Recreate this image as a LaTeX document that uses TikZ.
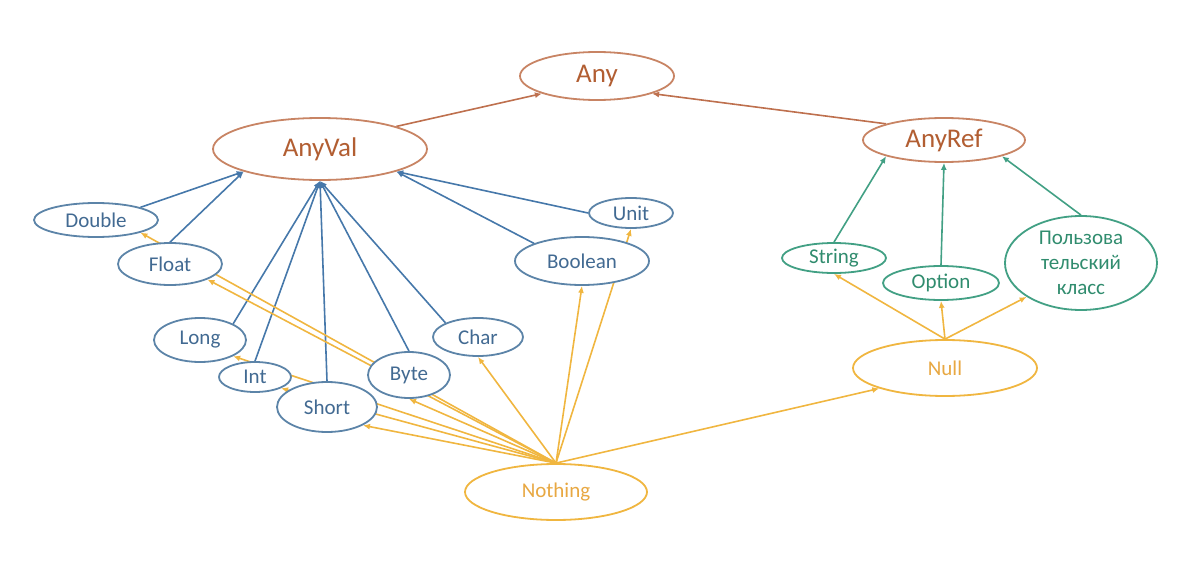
\documentclass[tikz,border=0pt]{standalone}
\usepackage{fontspec}
\setmainfont{Carlito}
\usetikzlibrary{shapes.geometric,arrows.meta,backgrounds}

\definecolor{brownline}{RGB}{200,132,100}
\definecolor{browntext}{RGB}{178,94,50}
\definecolor{brownedge}{RGB}{190,112,78}
\definecolor{blueline}{RGB}{92,132,168}
\definecolor{bluetext}{RGB}{66,106,146}
\definecolor{blueedge}{RGB}{70,120,170}
\definecolor{orangeline}{RGB}{240,182,64}
\definecolor{orangetext}{RGB}{232,168,66}
\definecolor{tealline}{RGB}{66,160,132}
\definecolor{tealtext}{RGB}{48,140,110}

\begin{document}
\begin{tikzpicture}[x=0.5pt, y=-0.5pt,
    type/.style={ellipse, draw, fill=white, line width=0.9pt, inner sep=0pt,
        font=\fontsize{10.5}{12.5}\selectfont, align=center},
    toptype/.style={type, draw=brownline, text=browntext, font=\fontsize{13.5}{15}\selectfont},
    valtype/.style={type, draw=blueline, text=bluetext},
    reftype/.style={type, draw=tealline, text=tealtext},
    bottype/.style={type, draw=orangeline, text=orangetext, font=\fontsize{10.5}{13}\selectfont},
    tip/.style={-{Latex[length=3.5pt,width=3pt]}, line width=0.8pt},
    brownarrow/.style={tip, brownedge},
    bluearrow/.style={tip, blueedge},
    tealarrow/.style={tip, tealline},
    orangearrow/.style={tip, orangeline}]
    \useasboundingbox (0, 0) rectangle (1191, 578);

    % top of the hierarchy
    \node[toptype, minimum width=77pt, minimum height=24pt] (Any) at (597, 76) {Any};
    \node[toptype, minimum width=107pt, minimum height=31pt] (AnyVal) at (320, 149) {AnyVal};
    \node[toptype, minimum width=81pt, minimum height=22pt] (AnyRef) at (944, 140) {AnyRef};

    % value types
    \node[valtype, minimum width=62pt, minimum height=17pt] (Double) at (96, 220) {Double};
    \node[valtype, minimum width=52pt, minimum height=21pt] (Float) at (170, 264) {Float};
    \node[valtype, minimum width=46pt, minimum height=22pt] (Long) at (200, 340) {Long};
    \node[valtype, minimum width=36pt, minimum height=15pt] (Int) at (255, 377) {Int};
    \node[valtype, minimum width=50pt, minimum height=25pt] (Short) at (327, 407) {Short};
    \node[valtype, minimum width=41pt, minimum height=23pt] (Byte) at (409, 375) {Byte};
    \node[valtype, minimum width=45pt, minimum height=19pt] (Char) at (478, 337) {Char};
    \node[valtype, minimum width=67pt, minimum height=24pt] (Boolean) at (582, 261) {Boolean};
    \node[valtype, minimum width=42pt, minimum height=15pt] (Unit) at (631, 213) {Unit};

    % reference types
    \node[reftype, minimum width=52pt, minimum height=15pt] (String) at (834, 258) {String};
    \node[reftype, minimum width=58pt, minimum height=17pt] (Option) at (941, 283) {Option};
    \node[reftype, minimum width=76pt, minimum height=47pt, inner ysep=-2pt] (UserClass) at (1081, 263) {Пользова\\тельский\\класс};

    % bottom types
    \node[bottype, minimum width=92pt, minimum height=28pt] (Null) at (945, 368) {Null};
    \node[bottype, minimum width=91pt, minimum height=28pt] (Nothing) at (556, 492) {Nothing};

    \begin{scope}[on background layer]
        \draw[brownarrow] (AnyVal.north east) -- (Any.south west);
        \draw[brownarrow] (AnyRef.north west) -- (Any.south east);

        \draw[bluearrow] (Double.north east) -- (AnyVal.south west);
        \draw[bluearrow] (Float.north) -- (AnyVal.south west);
        \draw[bluearrow] (Long.north east) -- (AnyVal.south);
        \draw[bluearrow] (Int.north) -- (AnyVal.south);
        \draw[bluearrow] (Short.north) -- (AnyVal.south);
        \draw[bluearrow] (Byte.north) -- (AnyVal.south);
        \draw[bluearrow] (Char.north west) -- (AnyVal.south);
        \draw[bluearrow] (Boolean.north west) -- (AnyVal.south east);
        \draw[bluearrow] (Unit.west) -- (AnyVal.south east);

        \draw[tealarrow] (String.north) -- (AnyRef.south west);
        \draw[tealarrow] (Option.north) -- (AnyRef.south);
        \draw[tealarrow] (UserClass.north) -- (AnyRef.south east);

        \draw[orangearrow] (Null.north) -- (String.south);
        \draw[orangearrow] (Null.north) -- (Option.south);
        \draw[orangearrow] (Null.north) -- (UserClass.south west);

        \draw[orangearrow] (Nothing.north) -- (Double.south east);
        \draw[orangearrow] (Nothing.north) -- (Float.south east);
        \draw[orangearrow] (Nothing.north) -- (Long.south east);
        \draw[orangearrow] (Nothing.north) -- (Int.south east);
        \draw[orangearrow] (Nothing.north) -- (Short.south east);
        \draw[orangearrow] (Nothing.north) -- (Byte.south);
        \draw[orangearrow] (Nothing.north) -- (Char.south);
        \draw[orangearrow] (Nothing.north) -- (Boolean.south);
        \draw[orangearrow] (Nothing.north) -- (Unit.south);
        \draw[orangearrow] (Nothing.north) -- (Null.south west);
    \end{scope}
\end{tikzpicture}
\end{document}
